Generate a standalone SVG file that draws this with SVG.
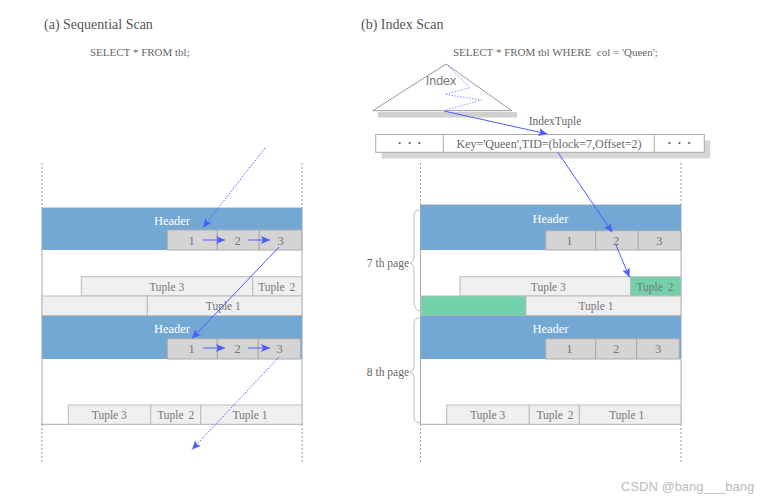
<svg xmlns="http://www.w3.org/2000/svg" width="775" height="497" viewBox="0 0 775 497">
<style>
.t{font-family:"Liberation Serif","Times New Roman",serif;fill:#666;}
.title{font-size:14px;fill:#555;}
.sql{font-size:11px;}
.hdr{font-size:12.5px;fill:#fff;text-anchor:middle;}
.num{font-size:12.5px;text-anchor:middle;fill:#777;}
.tup{font-size:11.5px;text-anchor:middle;fill:#777;}
.blue{fill:#74a8d4;}
.item{fill:#d4d4d4;stroke:#aaa;stroke-width:1;}
.tp{fill:#efefef;stroke:#bbb;stroke-width:1;}
.grn{fill:#72d1a9;stroke:#bbb;stroke-width:1;}
.page{fill:#fff;stroke:#aaa;stroke-width:1;}
.dash{stroke:#999;stroke-width:1;stroke-dasharray:2,2;fill:none;}
.arr{stroke:#4b5cff;stroke-width:1;fill:none;marker-end:url(#ah);}
.dot{stroke:#4b5cff;stroke-width:1;fill:none;stroke-dasharray:1.5,1.5;marker-end:url(#ah);}
.brace{stroke:#bbb;stroke-width:1;fill:none;}
</style>
<defs>
<marker id="ah" markerWidth="10" markerHeight="8" refX="9" refY="4" orient="auto" markerUnits="userSpaceOnUse">
<path d="M0,0 L9,4 L0,8 L2,4 Z" fill="#4b5cff"/>
</marker>
</defs>
<rect width="775" height="497" fill="#fff"/>

<text class="t title" x="44" y="29">(a) Sequential Scan</text>
<text class="t sql" x="90" y="56">SELECT * FROM tbl;</text>
<text class="t title" x="361" y="29">(b) Index Scan</text>
<text class="t sql" x="453" y="56" xml:space="preserve">SELECT * FROM tbl WHERE  col = 'Queen';</text>

<!-- dashed guides -->
<g id="guides">
<line class="dash" x1="42" y1="163" x2="42" y2="208"/>
<line class="dash" x1="302" y1="163" x2="302" y2="208"/>
<line class="dash" x1="42" y1="424" x2="42" y2="463"/>
<line class="dash" x1="302" y1="424" x2="302" y2="463"/>
<line class="dash" x1="420.5" y1="163" x2="420.5" y2="206"/>
<line class="dash" x1="681" y1="163" x2="681" y2="206"/>
<line class="dash" x1="420.5" y1="424" x2="420.5" y2="463"/>
<line class="dash" x1="681" y1="424" x2="681" y2="463"/>
</g>

<!-- Left page 1 -->
<g id="seq-page1">
<rect class="page" x="42" y="208" width="260" height="108"/>
<rect class="blue" x="42" y="208" width="260" height="42"/>
<text class="t hdr" x="172" y="225">Header</text>
<rect class="item" x="167.3" y="230" width="50" height="20"/>
<rect class="item" x="217.3" y="230" width="42" height="20"/>
<rect class="item" x="259.3" y="230" width="42.7" height="20"/>
<text class="t num" x="191.7" y="245">1</text>
<text class="t num" x="237.7" y="245">2</text>
<text class="t num" x="280.7" y="245">3</text>
<rect class="tp" x="81.3" y="276.7" width="171.4" height="19.3"/>
<rect class="tp" x="252.7" y="276.7" width="49.3" height="19.3"/>
<rect class="tp" x="42" y="296" width="105.3" height="20"/>
<rect class="tp" x="147.3" y="296" width="154.7" height="20"/>
<text class="t tup" x="166.7" y="290.5">Tuple 3</text>
<text class="t tup" x="276.7" y="290.5">Tuple <tspan dx="2">2</tspan></text>
<text class="t tup" x="223.3" y="310">Tuple 1</text>
</g>

<!-- Left page 2 -->
<g id="seq-page2">
<rect class="page" x="42" y="316" width="260" height="108.3"/>
<rect class="blue" x="42" y="316" width="260" height="43"/>
<text class="t hdr" x="172" y="333">Header</text>
<rect class="item" x="167.3" y="338.7" width="50" height="20.3"/>
<rect class="item" x="217.3" y="338.7" width="41" height="20.3"/>
<rect class="item" x="258.3" y="338.7" width="42.4" height="20.3"/>
<text class="t num" x="191.7" y="353">1</text>
<text class="t num" x="237.7" y="353">2</text>
<text class="t num" x="279.7" y="353">3</text>
<rect class="tp" x="68.3" y="405" width="82.4" height="19.3"/>
<rect class="tp" x="150.7" y="405" width="50" height="19.3"/>
<rect class="tp" x="200.7" y="405" width="101.3" height="19.3"/>
<text class="t tup" x="109.3" y="418.5">Tuple 3</text>
<text class="t tup" x="175.7" y="418.5">Tuple <tspan dx="2">2</tspan></text>
<text class="t tup" x="250" y="418.5">Tuple 1</text>
</g>

<!-- Index -->
<g id="index">
<polygon points="378,112 517,112 517,117.5 378,117.5" fill="#d0d0d0"/>
<polygon points="446,64 372.7,110.7 511.7,110.7" fill="#fff" stroke="#999" stroke-width="1"/>
<text x="441" y="84.5" font-family="Liberation Sans,Arial,sans-serif" font-size="12.5" fill="#777" text-anchor="middle">Index</text>
<polyline points="446,64 470,87.7 445,94.3 481.7,100 445,110.5" fill="none" stroke="#8a95ff" stroke-width="1" stroke-dasharray="1.5,1.5"/>
</g>

<!-- Index tuple row -->
<g id="indextuple">
<rect x="381.7" y="140.5" width="328.6" height="18" fill="#d6d6d6"/>
<rect x="375.7" y="134.5" width="328.6" height="17.8" fill="#fff" stroke="#aaa" stroke-width="1"/>
<line x1="443.3" y1="134.5" x2="443.3" y2="152.3" stroke="#aaa"/>
<line x1="654.3" y1="134.5" x2="654.3" y2="152.3" stroke="#aaa"/>
<text class="t" x="409.5" y="146" font-size="9" text-anchor="middle" xml:space="preserve">•   •   •</text>
<text class="t" x="679.3" y="146" font-size="9" text-anchor="middle" xml:space="preserve">•   •   •</text>
<text class="t" x="549" y="147.5" font-size="12" text-anchor="middle" fill="#777">Key='Queen',TID=(block=7,Offset=2)</text>
<text class="t" x="555" y="124.5" font-size="11.5" text-anchor="middle">IndexTuple</text>
</g>

<!-- Right page 7 -->
<g id="page7">
<rect class="page" x="420.5" y="205" width="260.5" height="111"/>
<rect class="blue" x="420.5" y="205" width="260.5" height="45"/>
<text class="t hdr" x="550.5" y="222.5">Header</text>
<rect class="item" x="545.7" y="230.7" width="50" height="19.3"/>
<rect class="item" x="595.7" y="230.7" width="42.6" height="19.3"/>
<rect class="item" x="638.3" y="230.7" width="42.7" height="19.3"/>
<text class="t num" x="569.3" y="245">1</text>
<text class="t num" x="616" y="245">2</text>
<text class="t num" x="659.3" y="245">3</text>
<rect class="tp" x="460" y="276.7" width="170.7" height="19.3"/>
<rect class="grn" x="630.7" y="276.7" width="50.3" height="19.3"/>
<rect class="grn" x="420.5" y="296" width="105.5" height="20"/>
<rect class="tp" x="526" y="296" width="155" height="20"/>
<text class="t tup" x="548.3" y="290.5">Tuple 3</text>
<text class="t tup" x="655" y="290.5">Tuple <tspan dx="2">2</tspan></text>
<text class="t tup" x="596" y="310">Tuple 1</text>
</g>

<!-- Right page 8 -->
<g id="page8">
<rect class="page" x="420.5" y="316" width="260.5" height="108.3"/>
<rect class="blue" x="420.5" y="316" width="260.5" height="43"/>
<text class="t hdr" x="550.5" y="333">Header</text>
<rect class="item" x="545.7" y="338.7" width="50" height="20.3"/>
<rect class="item" x="595.7" y="338.7" width="41" height="20.3"/>
<rect class="item" x="636.7" y="338.7" width="42.6" height="20.3"/>
<text class="t num" x="569.3" y="353">1</text>
<text class="t num" x="616" y="353">2</text>
<text class="t num" x="658" y="353">3</text>
<rect class="tp" x="446.7" y="405" width="82.6" height="19.3"/>
<rect class="tp" x="529.3" y="405" width="50" height="19.3"/>
<rect class="tp" x="579.3" y="405" width="101.7" height="19.3"/>
<text class="t tup" x="487.7" y="418.5">Tuple 3</text>
<text class="t tup" x="555" y="418.5">Tuple <tspan dx="2">2</tspan></text>
<text class="t tup" x="626.7" y="418.5">Tuple 1</text>
</g>

<!-- braces -->
<g id="brace7">
<path class="brace" d="M420,210 Q414,210 414,216 L414,256 Q414,262 410,263 Q414,264 414,270 L414,302 Q414,310 420,311"/>
<text class="t" x="409" y="267" font-size="11.5" text-anchor="end">7 th page</text>
</g>
<g id="brace8">
<path class="brace" d="M420,318 Q414,318 414,324 L414,366 Q414,371 410,372 Q414,373 414,378 L414,417 Q414,423 420,423"/>
<text class="t" x="409" y="376" font-size="11.5" text-anchor="end">8 th page</text>
</g>

<!-- connectors -->
<g id="connectors">
<line class="dot" x1="265" y1="148" x2="203" y2="227.5"/>
<line class="arr" x1="203" y1="240" x2="225" y2="240"/>
<line class="arr" x1="248" y1="240" x2="270" y2="240"/>
<line class="arr" x1="279" y1="247" x2="192" y2="338.5"/>
<line class="arr" x1="203" y1="348" x2="225" y2="348"/>
<line class="arr" x1="248" y1="348" x2="270" y2="348"/>
<line class="dot" x1="279" y1="357" x2="192" y2="449.5"/>
<line class="arr" x1="444" y1="111" x2="547.5" y2="134"/>
<line class="arr" x1="558" y1="152.5" x2="612.3" y2="232.3"/>
<line class="arr" x1="616" y1="245" x2="629.5" y2="277.3"/>
</g>

<text x="621" y="491" font-family="Liberation Sans,Arial,sans-serif" font-size="13" fill="#bbb">CSDN @bang___bang</text>
</svg>
